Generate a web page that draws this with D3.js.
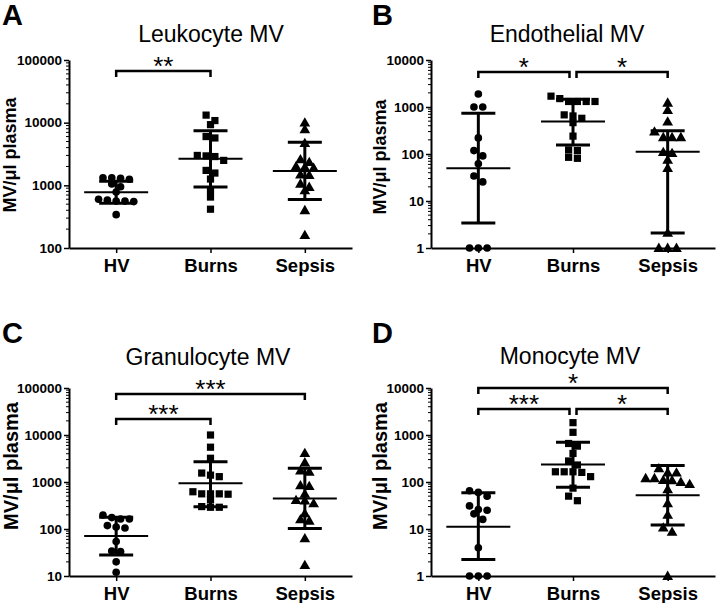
<!DOCTYPE html>
<html><head><meta charset="utf-8">
<script src="https://cdn.jsdelivr.net/npm/d3@7"></script>
<style>body{margin:0;background:#fff} svg{display:block}</style>
</head><body><svg id="chart" width="717" height="603"></svg>
<script>
const categories = ["HV", "Burns", "Sepsis"];

// A: Leukocyte MV
const leukocyteHV = [1320, 1250, 1290, 1320, 1050, 950, 780, 600, 560, 550, 560, 580, 340];
const leukocyteBurns = [13200, 10800, 9300, 5700, 6000, 3000, 2880, 2500, 2950, 1730, 1570, 1260, 830, 650, 416];
const leukocyteSepsis = [10000, 7800, 4700, 2600, 2350, 1900, 2000, 1950, 1480, 1450, 1060, 940, 830, 400, 160];
const leukocyteMean = [774, 2650, 1690];
const leukocyteUpper = [1157, 7460, 4870];
const leukocyteLower = [518, 940, 593];
const leukocyteSig = [["HV", "Burns", "**"]];

// B: Endothelial MV
const endothelialHV = [1890, 1000, 1000, 220, 118, 91, 62, 34, 25.5, 1, 1, 1];
const endothelialBurns = [1700, 1310, 1310, 1310, 1310, 1510, 645, 680, 465, 575, 240, 118, 122, 81, 85];
const endothelialSepsis = [1230, 860, 490, 227, 227, 227, 300, 104, 110, 75, 50, 2.1, 1, 1, 1];
const endothelialMean = [50, 490, 112];
const endothelialUpper = [735, 1457, 314];
const endothelialLower = [3.4, 156, 2.08];
const endothelialSig = [["HV", "Burns", "*"], ["Burns", "Sepsis", "*"]];

// C: Granulocyte MV
const granulocyteHV = [199, 175, 163, 163, 118, 110, 105, 54, 34, 33, 20, 12];
const granulocyteBurns = [10000, 5500, 3200, 1550, 1400, 1300, 620, 560, 560, 560, 550, 420, 300, 290, 290];
const granulocyteSepsis = [4100, 2600, 1750, 1650, 850, 820, 560, 410, 400, 350, 215, 160, 150, 63, 17];
const granulocyteMean = [71, 935, 446];
const granulocyteUpper = [177, 2700, 1950];
const granulocyteLower = [28, 297, 103];
const granulocyteSig = [["HV", "Sepsis", "***"], ["HV", "Burns", "***"]];

// D: Monocyte MV
const monocyteHV = [65, 60, 50, 31, 26, 25, 21, 16, 4, 1, 1, 1];
const monocyteBurns = [1830, 1140, 660, 580, 405, 280, 230, 165, 165, 165, 160, 130, 74, 50, 40];
const monocyteSepsis = [195, 158, 158, 120, 120, 110, 108, 100, 90, 70, 35, 20, 10.7, 8.7, 1];
const monocyteMean = [11.2, 235, 52];
const monocyteUpper = [59, 700, 224];
const monocyteLower = [2.25, 77, 12.2];
const monocyteSig = [["HV", "Sepsis", "*"], ["HV", "Burns", "***"], ["Burns", "Sepsis", "*"]];

const yTickA = [100, 1000, 10000, 100000];
const yTickB = [1, 10, 100, 1000, 10000];
const yTickC = [10, 100, 1000, 10000, 100000];
const yTickD = [1, 10, 100, 1000, 10000];

const FONT = "'Liberation Sans', Arial, Helvetica, sans-serif";

const panels = [
  {letter: "A", title: "Leukocyte MV", groups: [leukocyteHV, leukocyteBurns, leukocyteSepsis],
   mean: leukocyteMean, upper: leukocyteUpper, lower: leukocyteLower, sig: leukocyteSig, ticks: yTickA,
   L: {x0: 69, x1: 352, top: 60, bottom: 248, letterX: 2, letterY: 25, titleX: 211, titleY: 42, labX: 16, labY: 155, labSize: 18, sigY: [11]}},
  {letter: "B", title: "Endothelial MV", groups: [endothelialHV, endothelialBurns, endothelialSepsis],
   mean: endothelialMean, upper: endothelialUpper, lower: endothelialLower, sig: endothelialSig, ticks: yTickB,
   L: {x0: 431, x1: 715, top: 60, bottom: 248, letterX: 372, letterY: 25, titleX: 567, titleY: 42, labX: 386, labY: 157, labSize: 18, sigY: [12, 12]}},
  {letter: "C", title: "Granulocyte MV", groups: [granulocyteHV, granulocyteBurns, granulocyteSepsis],
   mean: granulocyteMean, upper: granulocyteUpper, lower: granulocyteLower, sig: granulocyteSig, ticks: yTickC,
   L: {x0: 69, x1: 352, top: 388, bottom: 576, letterX: 2, letterY: 343, titleX: 208, titleY: 365, labX: 18, labY: 466, labSize: 20, sigY: [6, 31]}},
  {letter: "D", title: "Monocyte MV", groups: [monocyteHV, monocyteBurns, monocyteSepsis],
   mean: monocyteMean, upper: monocyteUpper, lower: monocyteLower, sig: monocyteSig, ticks: yTickD,
   L: {x0: 431, x1: 715, top: 388, bottom: 576, letterX: 372, letterY: 343, titleX: 570, titleY: 364, labX: 387, labY: 466, labSize: 20, sigY: [0, 21, 21]}}
];

const svg = d3.select("#chart");
const symbols = [d3.symbolCircle, d3.symbolSquare, d3.symbolTriangle];
const symSizes = [46, 52, 50];

panels.forEach(p => {
  const L = p.L;
  const g = svg.append("g");
  const x = d3.scalePoint().domain(categories).range([L.x0, L.x1]).padding(0.5);
  const dom = d3.extent(p.ticks);
  const y = d3.scaleLog().domain(dom).range([L.bottom, L.top]);

  // panel letter and title
  g.append("text").attr("x", L.letterX).attr("y", L.letterY).text(p.letter)
    .attr("font-family", FONT).attr("font-weight", "bold").attr("font-size", 29);
  g.append("text").attr("x", L.titleX).attr("y", L.titleY).text(p.title)
    .attr("text-anchor", "middle").attr("font-family", FONT).attr("font-size", 23);
  g.append("text").attr("transform", `translate(${L.labX},${L.labY}) rotate(-90)`)
    .attr("text-anchor", "middle").attr("font-family", FONT).attr("font-weight", "bold")
    .attr("font-size", L.labSize).text("MV/\u03bcl plasma");

  // y axis with major ticks
  const yAxis = d3.axisLeft(y).tickValues(p.ticks).tickSize(5).tickSizeOuter(0).tickPadding(2)
    .tickFormat(d3.format("d"));
  const ya = g.append("g").attr("transform", `translate(${L.x0},0)`).call(yAxis);
  ya.select(".domain").attr("stroke", "#000").attr("stroke-width", 2);
  ya.selectAll(".tick line").attr("stroke", "#000").attr("stroke-width", 1.5);
  ya.selectAll(".tick text").attr("font-family", FONT).attr("font-weight", "bold").attr("font-size", 13.5).attr("fill", "#000");
  // minor ticks
  const minor = [];
  for (let e = Math.log10(dom[0]); e < Math.log10(dom[1]); e++) {
    for (let k = 2; k <= 9; k++) minor.push(k * Math.pow(10, e));
  }
  g.append("g").selectAll("line").data(minor).join("line")
    .attr("x1", L.x0 - 3).attr("x2", L.x0).attr("y1", d => y(d)).attr("y2", d => y(d))
    .attr("stroke", "#000").attr("stroke-width", 1);

  // x axis
  const xAxis = d3.axisBottom(x).tickSize(5).tickSizeOuter(0).tickPadding(6);
  const xa = g.append("g").attr("transform", `translate(0,${L.bottom})`).call(xAxis);
  xa.select(".domain").attr("stroke", "#000").attr("stroke-width", 2);
  xa.selectAll(".tick line").attr("stroke", "#000").attr("stroke-width", 1.5);
  xa.selectAll(".tick text").attr("font-family", FONT).attr("font-weight", "bold").attr("font-size", 18.5).attr("fill", "#000");

  // error bars and mean
  categories.forEach((c, i) => {
    const cx = x(c);
    const eg = g.append("g").attr("stroke", "#000");
    eg.append("line").attr("x1", cx).attr("x2", cx).attr("y1", y(p.lower[i])).attr("y2", y(p.upper[i])).attr("stroke-width", 3);
    [p.lower[i], p.upper[i]].forEach(v => {
      eg.append("line").attr("x1", cx - 17).attr("x2", cx + 17).attr("y1", y(v)).attr("y2", y(v)).attr("stroke-width", 3);
    });
    eg.append("line").attr("x1", cx - 32).attr("x2", cx + 32).attr("y1", y(p.mean[i])).attr("y2", y(p.mean[i])).attr("stroke-width", 2);
  });

  // points: rows of near-equal values spread horizontally
  p.groups.forEach((vals, gi) => {
    const cx = x(categories[gi]);
    const pts = vals.map(v => ({v, py: y(v)})).sort((a, b) => a.py - b.py);
    const rows = [];
    pts.forEach(pt => {
      const last = rows[rows.length - 1];
      if (last && pt.py - last[0].py < 6) last.push(pt); else rows.push([pt]);
    });
    const placed = [];
    rows.forEach(r => r.forEach((pt, k) => placed.push({v: pt.v, px: cx + (k - (r.length - 1) / 2) * 8.8})));
    const sym = d3.symbol().type(symbols[gi]).size(symSizes[gi]);
    g.append("g").selectAll("path").data(placed).join("path")
      .attr("d", sym)
      .attr("transform", d => `translate(${d.px},${y(d.v) + (gi === 2 ? 0.8 : 0)})`)
      .attr("fill", "#000");
  });

  // significance brackets
  p.sig.forEach((s, si) => {
    const by = L.top + L.sigY[si];
    const shared = cat => p.sig.some((o, oi) => oi !== si && L.sigY[oi] === L.sigY[si] && (o[0] === cat || o[1] === cat));
    let xa0 = x(s[0]), xa1 = x(s[1]);
    if (shared(s[0])) xa0 += 3.5;
    if (shared(s[1])) xa1 -= 3.5;
    g.append("path").attr("d", `M${xa0},${by + 6}V${by}H${xa1}V${by + 6}`)
      .attr("fill", "none").attr("stroke", "#000").attr("stroke-width", 2.5);
    g.append("text").attr("x", (xa0 + xa1) / 2).attr("y", by + 4).text(s[2])
      .attr("text-anchor", "middle").attr("font-family", FONT).attr("font-size", 26);
  });
});
</script></body></html>
